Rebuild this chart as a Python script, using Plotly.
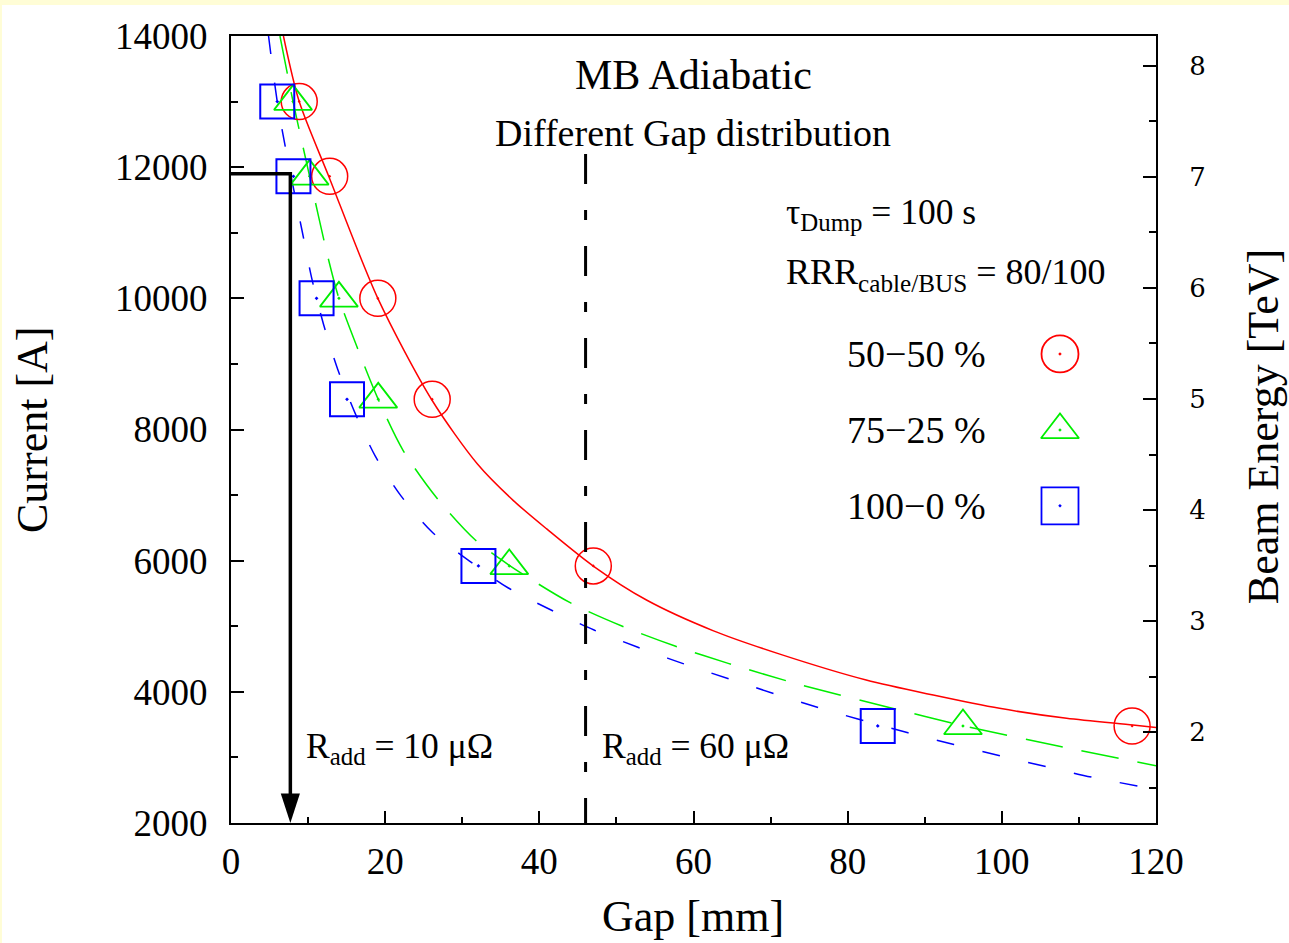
import plotly.graph_objects as go

# ---- data -------------------------------------------------------------
# currents at which the quench simulations were evaluated [A]
point_current = [13000, 11860, 10000, 8460, 5920, 3480]
# gap [mm] reached for each current, per gap distribution
gap_50_50 = [8.85, 12.8, 19.05, 26.1, 47.0, 116.9]
gap_75_25 = [8.05, 10.2, 14.0, 19.1, 36.1, 94.96]
gap_100_0 = [6.0, 8.1, 11.1, 15.05, 32.1, 83.9]

# fitted curves (gap [mm], current [A])
fit_50_50_gap = [6.8, 8.85, 12.7, 19.05, 26.06, 32.0, 36.6, 41.0, 47.0, 53.9,
                 62.6, 71.2, 82.4, 91.1, 99.7, 108.4, 117.0, 120.0]
fit_50_50_cur = [14000, 13000, 11855, 10000, 8450, 7470, 6920, 6480, 5918, 5400,
                 4930, 4575, 4180, 3951, 3748, 3596, 3494, 3455]

fit_75_25_gap = [6.35, 8.05, 10.2, 12.6, 14.0, 16.4, 19.1, 22.3, 26.7, 31.7,
                 36.1, 44.0, 50.7, 57.6, 64.5, 74.0, 85.0, 94.96, 107.3, 120.0]
fit_75_25_cur = [14000, 13000, 11860, 10615, 10000, 9242, 8460, 7687, 6955, 6315,
                 5930, 5359, 5003, 4698, 4434, 4104, 3773, 3483, 3174, 2873]

fit_100_0_gap = [4.87, 6.0, 7.04, 9.2, 10.5, 12.0, 13.84, 16.11, 18.7, 22.05,
                 26.05, 30.9, 35.98, 41.39, 47.1, 52.7, 58.56, 76.06, 87.83,
                 93.78, 99.8, 105.77, 111.7, 120.0]
fit_100_0_cur = [14000, 13000, 12312, 11042, 10292, 9605, 8919, 8246, 7598, 6988,
                 6441, 5997, 5583, 5255, 4942, 4683, 4434, 3765, 3375,
                 3196, 3024, 2858, 2698, 2513]

# operating point for R_add = 10 µΩ and the 60 µΩ limit
op_current = 11900
op_gap = 7.7
limit_gap = 46
limit_top = 12200

# current -> beam energy conversion [A per TeV]
amps_per_tev = 1693
i_min, i_max = 2000, 14000
energy_ticks = [2, 3, 4, 5, 6, 7, 8]

legend_labels = ["50\u221250 %", "75\u221225 %", "100\u22120 %"]

RED, GREEN, BLUE = "#ff0000", "#00ee00", "#0000ff"
SERIF = "Liberation Serif"

fig = go.Figure()

# fitted curves
fig.add_trace(go.Scatter(x=fit_50_50_gap, y=fit_50_50_cur, mode="lines",
                         line=dict(color=RED, width=1.5, shape="spline", smoothing=0.8),
                         showlegend=False))
fig.add_trace(go.Scatter(x=fit_75_25_gap, y=fit_75_25_cur, mode="lines",
                         line=dict(color=GREEN, width=1.5, shape="spline", smoothing=0.8,
                                   dash="38px,19px"),
                         showlegend=False))
fig.add_trace(go.Scatter(x=fit_100_0_gap, y=fit_100_0_cur, mode="lines",
                         line=dict(color=BLUE, width=1.5, shape="spline", smoothing=0.8,
                                   dash="18px,29px"),
                         showlegend=False))

# simulated points
fig.add_trace(go.Scatter(x=gap_50_50, y=point_current, mode="markers",
                         marker=dict(symbol="circle-open-dot", size=36, color=RED,
                                     line=dict(width=1.5, color=RED)),
                         showlegend=False))
fig.add_trace(go.Scatter(x=gap_75_25, y=point_current, mode="markers",
                         marker=dict(symbol="triangle-up-open-dot", size=33, color=GREEN,
                                     line=dict(width=1.8, color=GREEN)),
                         showlegend=False))
fig.add_trace(go.Scatter(x=gap_100_0, y=point_current, mode="markers",
                         marker=dict(symbol="square-open-dot", size=34, color=BLUE,
                                     line=dict(width=2, color=BLUE)),
                         showlegend=False))

# operating-point arrow
fig.add_trace(go.Scatter(x=[0, op_gap, op_gap], y=[op_current, op_current, i_min + 300],
                         mode="lines", line=dict(color="black", width=3.5),
                         showlegend=False, cliponaxis=False))
fig.add_trace(go.Scatter(x=[op_gap], y=[i_min], mode="markers",
                         marker=dict(symbol="arrow", angle=180, size=31, color="black",
                                     line=dict(width=0)),
                         showlegend=False, cliponaxis=False))

# 60 µΩ limit
fig.add_trace(go.Scatter(x=[limit_gap, limit_gap], y=[limit_top, i_min], mode="lines",
                         line=dict(color="black", width=3, dash="30px,26px,10px,26px"),
                         showlegend=False))

# secondary axis carrier
fig.add_trace(go.Scatter(x=[None], y=[None], yaxis="y2", showlegend=False))

# legend keys on a hidden overlay axis
key_y = [0.596, 0.4994, 0.403]
key_symbols = ["circle-open-dot", "triangle-up-open-dot", "square-open-dot"]
key_colors = [RED, GREEN, BLUE]
key_sizes = [37, 33, 37]
for yk, sym, col, sz in zip(key_y, key_symbols, key_colors, key_sizes):
    fig.add_trace(go.Scatter(x=[0.8962], y=[yk], xaxis="x2", yaxis="y3", mode="markers",
                             marker=dict(symbol=sym, size=sz, color=col,
                                         line=dict(width=1.8, color=col)),
                             showlegend=False, cliponaxis=False))

tickfont = dict(family=SERIF, size=37, color="black")
fig.update_layout(
    width=1289, height=943,
    margin=dict(l=231, r=133, t=36, b=120),
    paper_bgcolor="#fffdd6",
    plot_bgcolor="white",
    showlegend=False,
    font=dict(family=SERIF, color="black"),
    xaxis=dict(range=[0, 120], dtick=20, tick0=0, showline=True, mirror=True,
               linecolor="black", linewidth=2, ticks="inside", ticklen=12, tickwidth=2,
               tickcolor="black", showgrid=False, zeroline=False, tickfont=tickfont,
               ticklabelstandoff=5,
               minor=dict(dtick=10, ticks="inside", ticklen=6, tickwidth=2, tickcolor="black",
                          showgrid=False)),
    yaxis=dict(range=[i_min, i_max], dtick=2000, tick0=0, tickformat="d",
               showline=True, mirror=False,
               linecolor="black", linewidth=2, ticks="inside", ticklen=13, tickwidth=2,
               tickcolor="black", showgrid=False, zeroline=False, tickfont=tickfont,
               ticklabelstandoff=14,
               minor=dict(dtick=1000, ticks="inside", ticklen=7, tickwidth=2, tickcolor="black",
                          showgrid=False)),
    yaxis2=dict(range=[i_min / amps_per_tev, i_max / amps_per_tev], overlaying="y",
                side="right", tickvals=energy_ticks, showline=True, linecolor="black",
                linewidth=2, ticks="inside", ticklen=13, tickwidth=2, tickcolor="black",
                showgrid=False, zeroline=False,
                tickfont=dict(family="DejaVu Serif", size=26, color="black"),
                ticklabelstandoff=26,
                minor=dict(dtick=0.5, tick0=0, ticks="inside", ticklen=7, tickwidth=2,
                           tickcolor="black", showgrid=False)),
    xaxis2=dict(range=[0, 1], overlaying="x", visible=False),
    yaxis3=dict(range=[0, 1], overlaying="y", visible=False),
)

# white page area inside the thin yellow frame
fig.add_shape(type="rect", xref="paper", yref="paper", x0=-0.2476, x1=1.2,
              y0=-0.2, y1=1.0394, fillcolor="white", line=dict(width=0), layer="below")

def note(text, x, y, size, xanchor="left", angle=0):
    fig.add_annotation(text=text, x=x, y=y, xref="paper", yref="paper", showarrow=False,
                       xanchor=xanchor, yanchor="middle", textangle=angle,
                       font=dict(family=SERIF, size=size, color="black"))

note("MB Adiabatic", 0.4995, 0.9504, 42, "center")
note("Different Gap distribution", 0.4995, 0.8767, 38, "center")
note("\u03c4<sub>Dump</sub> = 100 s", 0.598, 0.774, 35.5)
note("RRR<sub>cable/BUS</sub> = 80/100", 0.598, 0.697, 36)
for lab, yk in zip(legend_labels, key_y):
    note(lab, 0.664, yk, 38)
note("R<sub>add</sub> = 10 \u03bc\u03a9", 0.0789, 0.095, 35.5)
note("R<sub>add</sub> = 60 \u03bc\u03a9", 0.3989, 0.095, 35.5)

# axis titles
note("Current [A]", -0.214, 0.4994, 44, "center", -90)
note("Gap [mm]", 0.4995, -0.1194, 44, "center")
note("Beam Energy [TeV]", 1.117, 0.5032, 44, "center", -90)

fig.write_html("out.html")
